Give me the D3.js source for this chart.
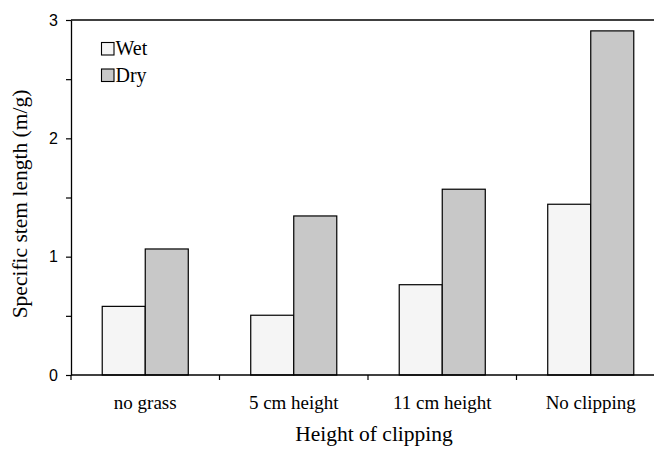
<!DOCTYPE html>
<html>
<head>
<meta charset="utf-8">
<script src="https://cdn.jsdelivr.net/npm/d3@7"></script>
<style>
  body { margin: 0; background: #fff; }
  svg { display: block; }
</style>
</head>
<body>
<svg id="chart" width="654" height="450"></svg>
<script>
// Specific stem length by clipping treatment, wet vs dry conditions
const categories = ["no grass", "5 cm height", "11 cm height", "No clipping"];
const seriesNames = ["Wet", "Dry"];
const wetValues = [0.58, 0.505, 0.763, 1.443];
const dryValues = [1.065, 1.344, 1.57, 2.908];
const yTickValues = [0, 0.5, 1, 1.5, 2, 2.5, 3];
const yLabelValues = [0, 1, 2, 3];

const colors = { Wet: "#f5f5f5", Dry: "#c8c8c8" };
const SERIF = "Liberation Serif";
const SANS = "Liberation Sans";

const svg = d3.select("#chart");
const plotLeft = 71, plotTop = 20, plotBottom = 375;
const bandW = 148.5;

const x = d3.scaleBand()
  .domain(categories)
  .range([plotLeft, plotLeft + bandW * categories.length])
  .paddingInner(0).paddingOuter(0);

// the pair of bars fills about 58% of each category band
const inner = d3.scaleBand()
  .domain(seriesNames)
  .range([0, bandW])
  .paddingInner(0)
  .paddingOuter(0.726);

const y = d3.scaleLinear().domain([0, 3]).range([plotBottom, plotTop]);

const rows = categories.map((c, i) => ({ cat: c, Wet: wetValues[i], Dry: dryValues[i] }));

// Bars
const g = svg.append("g");
rows.forEach(r => {
  seriesNames.forEach(s => {
    g.append("rect")
      .attr("x", x(r.cat) + inner(s))
      .attr("y", y(r[s]))
      .attr("width", inner.bandwidth())
      .attr("height", y(0) - y(r[s]))
      .attr("fill", colors[s])
      .attr("stroke", "#000")
      .attr("stroke-width", 1.2);
  });
});

// Top frame line
svg.append("line")
  .attr("x1", plotLeft).attr("x2", 660)
  .attr("y1", y(3)).attr("y2", y(3))
  .attr("stroke", "#000").attr("stroke-width", 1.3);

// Y axis
const yAxis = d3.axisLeft(y)
  .tickValues(yTickValues)
  .tickSizeInner(5).tickSizeOuter(0)
  .tickFormat(d => yLabelValues.includes(d) ? d3.format("d")(d) : "");
const ya = svg.append("g").attr("transform", `translate(${plotLeft},0)`).call(yAxis);
ya.attr("font-family", null).attr("font-size", null);
ya.select(".domain").attr("stroke-width", 1.3);
ya.selectAll(".tick line").attr("stroke-width", 1.2);
ya.selectAll("text")
  .style("font-family", SANS)
  .style("font-size", "16px").attr("fill", "#000")
  .attr("x", -13);

// X axis: ticks at the band boundaries
const boundaries = d3.range(categories.length + 1).map(i => plotLeft + i * bandW);
svg.append("line")
  .attr("x1", plotLeft).attr("x2", 660)
  .attr("y1", plotBottom).attr("y2", plotBottom)
  .attr("stroke", "#000").attr("stroke-width", 1.3);
svg.selectAll(".xtick").data(boundaries).enter().append("line")
  .attr("class", "xtick")
  .attr("x1", d => d).attr("x2", d => d)
  .attr("y1", plotBottom).attr("y2", plotBottom + 5)
  .attr("stroke", "#000").attr("stroke-width", 1.2);

svg.selectAll(".xlab").data(categories).enter().append("text")
  .attr("class", "xlab")
  .attr("x", d => x(d) + x.bandwidth() / 2)
  .attr("y", 409)
  .attr("text-anchor", "middle")
  .style("font-family", SERIF)
  .style("font-size", "19px")
  .text(d => d);

// Axis titles
svg.append("text")
  .attr("x", 374).attr("y", 441)
  .attr("text-anchor", "middle")
  .style("font-family", SERIF)
  .style("font-size", "21.5px")
  .text("Height of clipping");

svg.append("text")
  .attr("transform", "translate(27,204) rotate(-90)")
  .attr("text-anchor", "middle")
  .style("font-family", SERIF)
  .style("font-size", "21.5px")
  .text("Specific stem length (m/g)");

// Legend
const legend = svg.append("g").attr("transform", "translate(101.5,42.5)");
seriesNames.forEach((s, i) => {
  const row = legend.append("g").attr("transform", `translate(0,${i * 26.5})`);
  row.append("rect")
    .attr("width", 12.5).attr("height", 12.5)
    .attr("fill", colors[s]).attr("stroke", "#000").attr("stroke-width", 1.1);
  row.append("text")
    .attr("x", 14).attr("y", 12.5)
    .style("font-family", SERIF)
    .style("font-size", "20px")
    .text(s);
});
</script>
</body>
</html>
